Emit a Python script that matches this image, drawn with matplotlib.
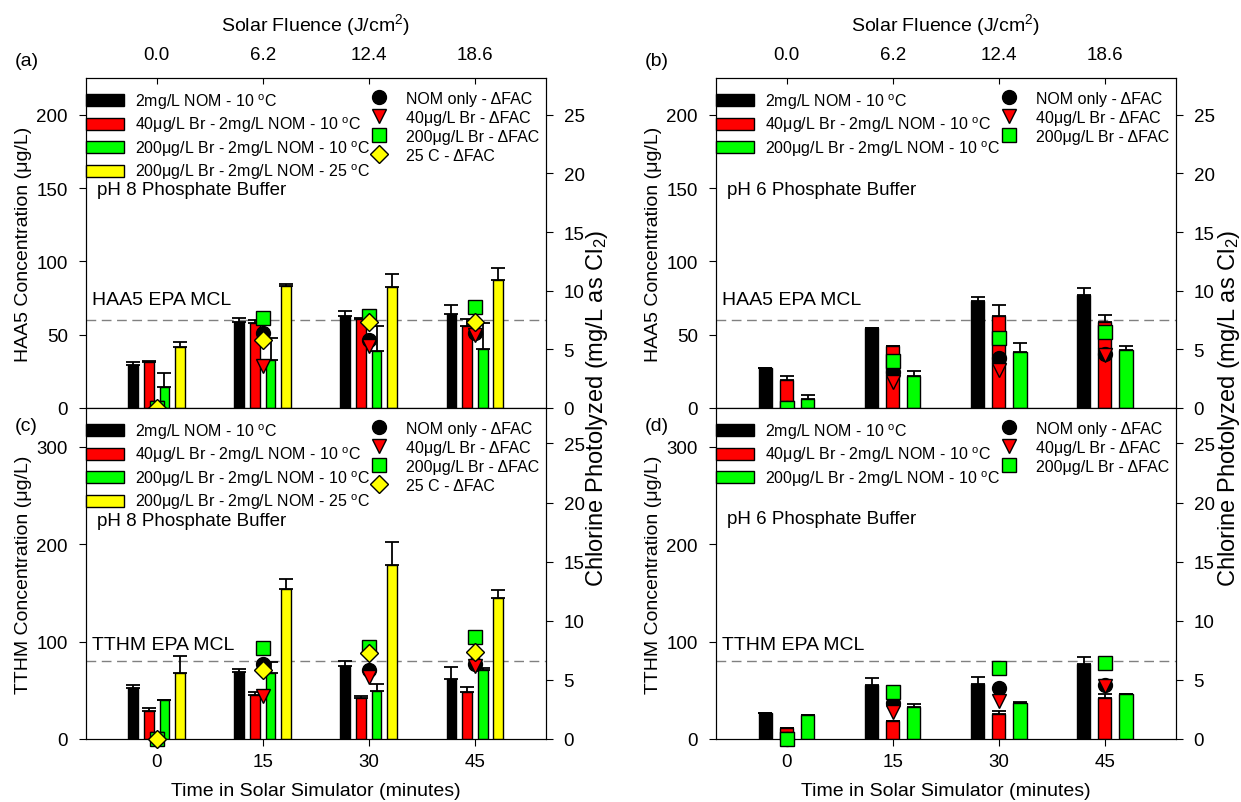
import numpy as np
import matplotlib
matplotlib.use('Agg')
import matplotlib.pyplot as plt
from matplotlib.patches import Patch
from matplotlib.lines import Line2D

plt.rcParams['font.family'] = ['Liberation Sans', 'DejaVu Sans']
plt.rcParams['mathtext.fontset'] = 'custom'
plt.rcParams['mathtext.rm'] = 'Liberation Sans'
plt.rcParams['mathtext.it'] = 'Liberation Sans:italic'
plt.rcParams['mathtext.bf'] = 'Liberation Sans:bold'

# x categories
times = [0, 15, 30, 45]
fluence = ['0.0', '6.2', '12.4', '18.6']

# HAA5, pH 8 (ug/L) and upper error
haa5_ph8_nom = [29.5, 58.6, 62.7, 63.9]
haa5_ph8_nom_err = [2.0, 2.5, 3.2, 6.0]
haa5_ph8_br40 = [31.4, 57.7, 60.5, 55.9]
haa5_ph8_br40_err = [0.4, 2.0, 0.8, 5.0]
haa5_ph8_br200 = [14.5, 33.0, 38.6, 40.0]
haa5_ph8_br200_err = [9.3, 15.0, 17.0, 18.0]
haa5_ph8_br200_25c = [41.6, 83.0, 82.7, 87.5]
haa5_ph8_br200_25c_err = [3.6, 1.6, 9.0, 8.0]

# HAA5, pH 6
haa5_ph6_nom = [27.0, 54.8, 73.2, 77.0]
haa5_ph6_nom_err = [0.0, 0.0, 2.7, 5.0]
haa5_ph6_br40 = [19.3, 42.0, 62.5, 58.4]
haa5_ph6_br40_err = [2.7, 0.3, 8.0, 5.2]
haa5_ph6_br200 = [5.9, 21.8, 38.4, 39.5]
haa5_ph6_br200_err = [3.0, 3.4, 6.0, 2.7]

# TTHM, pH 8
tthm_ph8_nom = [52.5, 69.0, 75.0, 61.7]
tthm_ph8_nom_err = [3.0, 2.7, 5.0, 12.0]
tthm_ph8_br40 = [28.5, 45.0, 41.9, 48.4]
tthm_ph8_br40_err = [3.4, 3.4, 2.4, 5.0]
tthm_ph8_br200 = [39.8, 67.6, 49.7, 71.0]
tthm_ph8_br200_err = [0.5, 11.0, 6.9, 2.0]
tthm_ph8_br200_25c = [67.6, 153.7, 178.4, 144.8]
tthm_ph8_br200_25c_err = [18.0, 11.0, 24.0, 8.2]

# TTHM, pH 6
tthm_ph6_nom = [26.4, 55.5, 56.2, 77.4]
tthm_ph6_nom_err = [0.0, 6.8, 7.5, 6.8]
tthm_ph6_br40 = [11.3, 18.2, 25.7, 42.1]
tthm_ph6_br40_err = [0.0, 0.0, 2.7, 4.5]
tthm_ph6_br200 = [24.3, 32.5, 37.0, 46.2]
tthm_ph6_br200_err = [0.5, 3.8, 0.5, 0.5]

# chlorine photolyzed (mg/L as Cl2)
dfac_ph8_nom = [0.0, 6.36, 5.8, 6.36]
dfac_ph8_br40 = [0.0, 3.6, 5.25, 6.2]
dfac_ph8_br200 = [0.0, 7.67, 7.8, 8.65]
dfac_ph8_25c = [0.0, 5.8, 7.3, 7.36]
dfac_ph6_nom = [0.0, 3.05, 4.3, 4.6]
dfac_ph6_br40 = [0.0, 2.25, 3.2, 4.5]
dfac_ph6_br200 = [0.0, 4.0, 6.0, 6.45]

bar_labels = ['2mg/L NOM - 10 $^{\\rm o}$C',
              '40\u03bcg/L Br - 2mg/L NOM - 10 $^{\\rm o}$C',
              '200\u03bcg/L Br - 2mg/L NOM - 10 $^{\\rm o}$C',
              '200\u03bcg/L Br - 2mg/L NOM - 25 $^{\\rm o}$C']
marker_labels = ['NOM only - \u0394FAC', '40\u03bcg/L Br - \u0394FAC',
                 '200\u03bcg/L Br - \u0394FAC', '25 C - \u0394FAC']
bar_colors = ['black', '#ff0000', '#00ff00', '#ffff00']
mk_style = [('o', 'black'), ('v', '#ff0000'), ('s', '#00ff00'), ('D', '#ffff00')]

TICK = 13.5
LAB = 14
LEG = 11.5

fig = plt.figure(figsize=(12.41, 8.03), dpi=100)
W = 459.5 / 1241
H_top = 330 / 803
H_bot = 331 / 803
pos = {'a': [86 / 1241, 394 / 803, W, H_top],
       'b': [716 / 1241, 394 / 803, W, H_top],
       'c': [86 / 1241, 63 / 803, W, H_bot],
       'd': [716 / 1241, 63 / 803, W, H_bot]}
ph_text_str = {'a': 'pH 8 Phosphate Buffer', 'b': 'pH 6 Phosphate Buffer',
               'c': 'pH 8 Phosphate Buffer', 'd': 'pH 6 Phosphate Buffer'}


def panel(key, bars, errs, dfac, ymax, rmax, mcl, mcl_text, ph_y, ylabel, top):
    ax = fig.add_axes(pos[key])
    n = len(bars)
    if n == 4:
        offs = [-3.3, -1.1, 1.1, 3.3]
        w = 1.4
    else:
        offs = [-3.0, 0.0, 3.0]
        w = 1.85
    x = np.array(times, dtype=float)
    ax.axhline(mcl, color='#808080', lw=1, ls=(0, (7, 4)), zorder=1)
    for i in range(n):
        ax.bar(x + offs[i], bars[i], width=w, color=bar_colors[i], edgecolor='black',
               linewidth=1, zorder=3)
        ax.errorbar(x + offs[i], bars[i], yerr=[np.zeros(4), errs[i]], fmt='none',
                    ecolor='black', elinewidth=1.3, capsize=5, capthick=1.3, zorder=2)
    ax.set_xlim(-10, 55)
    ax.set_ylim(0, ymax)
    ax.text(-9.2, mcl + (14 if top else 17), mcl_text, fontsize=LAB, va='center', ha='left')
    ax.text(-8.4, ph_y, ph_text_str[key], fontsize=13.5, va='center', ha='left')
    ax.tick_params(axis='y', direction='out', length=5, labelsize=TICK, pad=8)
    ax.set_ylabel(ylabel, fontsize=LAB)
    ax.yaxis.set_label_coords(-0.118, 0.5)
    ax.set_xticks(times)
    if top:
        ax.xaxis.set_ticks_position('top')
        ax.xaxis.set_label_position('top')
        ax.set_xticklabels(fluence)
        ax.tick_params(axis='x', direction='in', length=4, labelsize=TICK, pad=11)
        ax.set_xlabel('Solar Fluence (J/cm$^2$)', fontsize=LAB, labelpad=11)
        ax.set_yticks([0, 50, 100, 150, 200])
    else:
        ax.set_xticklabels([str(t) for t in times])
        ax.tick_params(axis='x', direction='out', length=5, labelsize=TICK, pad=5)
        ax.set_xlabel('Time in Solar Simulator (minutes)', fontsize=LAB, labelpad=9)
        ax.set_yticks([0, 100, 200, 300])

    ax2 = ax.twinx()
    ax2.set_ylim(0, rmax)
    ax2.set_yticks([0, 5, 10, 15, 20, 25])
    ax2.tick_params(axis='y', direction='out', length=5, labelsize=TICK, pad=8)
    for i in range(len(dfac)):
        m, c = mk_style[i]
        ax2.plot(times, dfac[i], ls='none', marker=m, ms=10 if m != 'D' else 9,
                 mfc=c, mec='black', mew=1, clip_on=False, zorder=5)

    h1 = [Patch(facecolor=bar_colors[i], edgecolor='black', linewidth=1) for i in range(n)]
    leg1 = ax2.legend(h1, bar_labels[:n], loc='upper left', bbox_to_anchor=(0.0, 1 - 13 / 330),
                      frameon=False, fontsize=LEG, borderpad=0, borderaxespad=0,
                      handlelength=2.4, handleheight=0.8, handletextpad=0.65,
                      labelspacing=0.25)
    ax2.add_artist(leg1)
    h2 = [Line2D([], [], ls='none', marker=mk_style[i][0], ms=10 if i != 3 else 9,
                 mfc=mk_style[i][1], mec='black', mew=1) for i in range(n)]
    ax2.legend(h2, marker_labels[:n], loc='upper left', bbox_to_anchor=(0.609, 1 - 13 / 330),
               frameon=False, fontsize=LEG, borderpad=0, borderaxespad=0,
               handlelength=1.6, handletextpad=0.9, labelspacing=0.25)
    return ax, ax2


panel('a', [haa5_ph8_nom, haa5_ph8_br40, haa5_ph8_br200, haa5_ph8_br200_25c],
      [haa5_ph8_nom_err, haa5_ph8_br40_err, haa5_ph8_br200_err, haa5_ph8_br200_25c_err],
      [dfac_ph8_nom, dfac_ph8_br40, dfac_ph8_br200, dfac_ph8_25c],
      225, 28.125, 60, 'HAA5 EPA MCL', 149, 'HAA5 Concentration (\u03bcg/L)', True)
panel('b', [haa5_ph6_nom, haa5_ph6_br40, haa5_ph6_br200],
      [haa5_ph6_nom_err, haa5_ph6_br40_err, haa5_ph6_br200_err],
      [dfac_ph6_nom, dfac_ph6_br40, dfac_ph6_br200],
      225, 28.125, 60, 'HAA5 EPA MCL', 149, 'HAA5 Concentration (\u03bcg/L)', True)
panel('c', [tthm_ph8_nom, tthm_ph8_br40, tthm_ph8_br200, tthm_ph8_br200_25c],
      [tthm_ph8_nom_err, tthm_ph8_br40_err, tthm_ph8_br200_err, tthm_ph8_br200_25c_err],
      [dfac_ph8_nom, dfac_ph8_br40, dfac_ph8_br200, dfac_ph8_25c],
      340, 28.0, 80, 'TTHM EPA MCL', 224, 'TTHM Concentration (\u03bcg/L)', False)
panel('d', [tthm_ph6_nom, tthm_ph6_br40, tthm_ph6_br200],
      [tthm_ph6_nom_err, tthm_ph6_br40_err, tthm_ph6_br200_err],
      [dfac_ph6_nom, dfac_ph6_br40, dfac_ph6_br200],
      340, 28.0, 80, 'TTHM EPA MCL', 227, 'TTHM Concentration (\u03bcg/L)', False)

for lbl, xp, yp in [('(a)', 15, 62), ('(b)', 645, 62), ('(c)', 15, 427), ('(d)', 645, 427)]:
    fig.text(xp / 1241, 1 - yp / 803, lbl, fontsize=LAB, va='center', ha='left')
for xp in [597, 1229]:
    fig.text(xp / 1241, 1 - 408 / 803, 'Chlorine Photolyzed (mg/L as Cl$_2$)',
             rotation=90, fontsize=17, va='center', ha='center')

fig.savefig('out.png', dpi=100)
